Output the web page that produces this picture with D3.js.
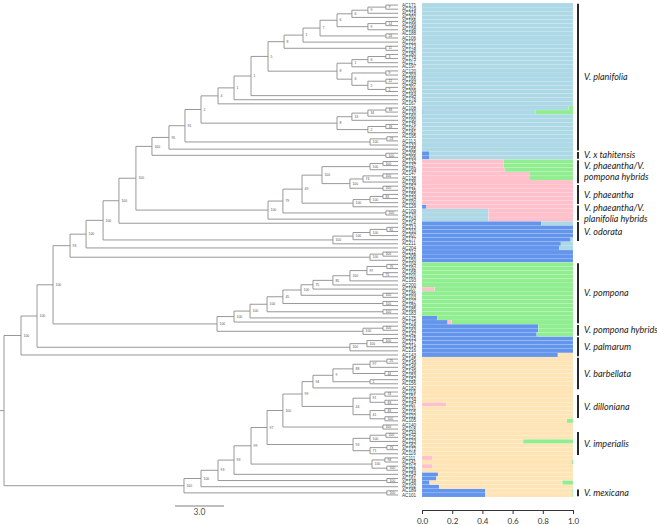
<!DOCTYPE html>
<html><head><meta charset="utf-8">
<script src="https://cdn.jsdelivr.net/npm/d3@7"></script>
<style>body{margin:0;background:#fff}svg{display:block}</style>
</head><body>
<svg id="chart" width="657" height="525"></svg>
<script>
// ---------------- DATA ----------------
// Cluster order used in the STRUCTURE stacks (left to right)
const clusterKeys = ["K1", "K2", "K3", "K4", "K5"];
const clusterColors = ["#6495ed", "#add8e6", "#ffc0cb", "#ffe4b5", "#90ee90"];

// Phylogeny: [bootstrap support, node depth (scale-bar units), child, child]; leaves are accession names
const tipDepth = 24.1;
const tree = ["", 0,
  ["100", 1.04,
    ["100", 2.02,
      ["100", 3.00,
        ["93", 4.04,
          ["100", 5.02,
            ["100", 6.06,
              ["100", 7.03,
                ["100", 8.07,
                  ["100", 9.05,
                    ["95", 10.09,
                      ["91", 11.07,
                        ["2", 12.05,
                          ["4", 13.09,
                            ["1", 14.07,
                              ["1", 15.11,
                                ["5", 16.15,
                                  ["8", 17.13,
                                    ["1", 18.29,
                                      ["7", 19.33,
                                        ["6", 20.37,
                                          ["6", 21.28,
                                            ["9", 22.26, ["9", 23.36, "AC171", "AC219"], "AC218"],
                                            "AC202"],
                                          ["9", 22.26, ["14", 23.36, "AC196", "AC199"], "AC198"]],
                                        ["24", 23.36, "AC188", "AC106"]],
                                      "AC121"],
                                    ["11", 23.36, "AC173", "AC128"]],
                                  ["8", 20.37,
                                    ["1", 21.28, ["6", 22.26, ["3", 23.36, "AC180", "AC174"], "AC117"], "AC197"],
                                    ["6", 21.28, ["9", 23.36, "AC120", "AC203"],
                                      ["2", 22.26, ["12", 23.36, "AC166", "AC184"], ["2", 23.36, "AC201", "AC209"]]]]],
                                "AC164"],
                              "AC178"],
                            "AC167"],
                          ["8", 20.37,
                            ["13", 21.28, ["34", 22.26, ["33", 23.36, "AC108", "AC130"], "AC160"], "AC190"],
                            ["2", 22.26, ["33", 23.36, "AC176", "AC191"], "AC181"]]],
                        ["100", 22.39, ["23", 23.42, "AC195", "AC113"], "AC133"]],
                      "AC165"],
                    ["100", 23.36, "AC205", "AC206"]],
                  ["100", 16.15,
                    ["79", 17.06,
                      ["49", 18.23,
                        ["100", 19.45,
                          ["100", 22.39, ["100", 23.18, "AC132", "AC137"], "AC169"],
                          ["100", 21.16, ["74", 21.96, ["100", 23.18, "AC147", "AC138"], "AC136"], ["100", 23.18, "AC157", "AC135"]]],
                        ["100", 21.35, ["100", 22.39, ["81", 23.18, "AC155", "AC124"], "AC100"], "AC129"]],
                      ["100", 23.36, "AC109", "AC170"]],
                    "AC194"]],
                "AC114"],
              ["100", 20.12, ["100", 21.35, ["100", 22.39, ["81", 23.42, "AC213", "AC210"], "AC207"], "AC177"], "AC211"]],
            "AC204"],
          ["100", 22.39, ["100", 23.18, "AC212", "AC208"], "AC150"]],
        ["100", 13.03,
          ["100", 14.07,
            ["100", 15.05,
              ["100", 16.09,
                ["45", 17.06,
                  ["100", 18.17,
                    ["75", 18.90,
                      ["85", 20.12,
                        ["100", 21.16,
                          ["97", 22.20, ["79", 23.42, "AC104", "AC192"], ["71", 23.18, "AC168", "AC110"]],
                          "AC193"],
                        "AC200"],
                      "AC107"],
                    ["100", 23.18, "AC186", "AC103"]],
                  ["100", 23.18, "AC127", "AC159"]],
                ["100", 23.18, "AC185", "AC183"]],
              "AC175"],
            "AC179"],
          ["100", 21.96, ["100", 23.18, "AC158", "AC163"], "AC142"]]],
      ["100", 21.16, ["100", 22.20, ["100", 23.18, "AC215", "AC217"], "AC214"], "AC216"]],
    "AC143"],
  ["100", 11.01,
    ["100", 12.05,
      ["93", 13.09,
        ["93", 14.07,
          ["99", 15.11,
            ["97", 16.09,
              ["100", 17.06,
                ["99", 18.23,
                  ["94", 18.90,
                    ["9", 20.12,
                      ["88", 21.35, ["97", 22.39, ["25", 23.42, "AC145", "AC149"], "AC146"], ["44", 23.30, "AC139", "AC153"]],
                      ["1", 22.39, "AC152", "AC156"]],
                    "AC182"],
                  ["44", 21.35,
                    ["91", 22.39, ["74", 23.30, "AC119", "AC151"], ["83", 23.30, "AC134", "AC187"]],
                    ["41", 22.39, ["83", 23.30, "AC131", "AC115"], ["100", 23.30, "AC122", "AC105"]]]],
                ["100", 23.18, "AC140", "AC118"]],
              ["93", 21.35,
                ["100", 22.39, ["100", 23.36, "AC144", "AC125"], "AC123"],
                ["71", 22.39, ["73", 23.42, "AC162", "AC172"], "AC116"]]],
            ["100", 22.51, ["94", 23.30, "AC111", "AC141"], ["100", 23.42, "AC112", "AC126"]]],
          "AC154"],
        ["100", 23.42, "AC161", "AC148"]],
      "AC102"],
    ["100", 23.42, "AC189", "AC101"]]];

// Main (pure) cluster for consecutive runs of leaves: [number of leaves, cluster index]
const mainBlocks = [[38, 1], [15, 2], [10, 0], [18, 4], [5, 0], [34, 3]];

// Admixed individuals: [name, K1 blue, K2 light blue, K3 pink, K4 orange, K5 green]
const admixed = [
  ["AC108", 0, 0.97, 0, 0, 0.03],
  ["AC130", 0.005, 0.745, 0, 0, 0.25],
  ["AC205", 0.05, 0.95, 0, 0, 0],
  ["AC206", 0.05, 0.95, 0, 0, 0],
  ["AC132", 0, 0, 0.54, 0, 0.46],
  ["AC137", 0, 0, 0.54, 0, 0.46],
  ["AC169", 0, 0, 0.55, 0, 0.45],
  ["AC147", 0, 0, 0.71, 0, 0.29],
  ["AC138", 0, 0, 0.71, 0, 0.29],
  ["AC129", 0.03, 0, 0.97, 0, 0],
  ["AC109", 0, 0.44, 0.56, 0, 0],
  ["AC170", 0, 0.44, 0.56, 0, 0],
  ["AC194", 0, 0.44, 0.56, 0, 0],
  ["AC114", 0.79, 0.21, 0, 0, 0],
  ["AC177", 0.985, 0.015, 0, 0, 0],
  ["AC211", 0.92, 0.08, 0, 0, 0],
  ["AC204", 0.91, 0.09, 0, 0, 0],
  ["AC107", 0, 0, 0.085, 0, 0.915],
  ["AC175", 0.10, 0, 0, 0, 0.90],
  ["AC179", 0.17, 0, 0.025, 0, 0.805],
  ["AC158", 0.77, 0, 0, 0, 0.23],
  ["AC163", 0.77, 0, 0, 0, 0.23],
  ["AC142", 0.76, 0, 0, 0, 0.24],
  ["AC143", 0.90, 0, 0, 0.10, 0],
  ["AC187", 0, 0, 0.16, 0.84, 0],
  ["AC105", 0, 0, 0, 0.96, 0.04],
  ["AC123", 0, 0, 0, 0.67, 0.33],
  ["AC111", 0, 0, 0.07, 0.93, 0],
  ["AC141", 0, 0, 0, 0.99, 0.01],
  ["AC112", 0, 0, 0.07, 0.93, 0],
  ["AC154", 0.106, 0, 0, 0.894, 0],
  ["AC161", 0.095, 0, 0, 0.905, 0],
  ["AC148", 0.05, 0, 0, 0.88, 0.07],
  ["AC102", 0.113, 0, 0, 0.887, 0],
  ["AC189", 0.42, 0, 0, 0.575, 0.005],
  ["AC101", 0.42, 0, 0, 0.575, 0.005]
];

// Taxon brackets: [label lines, first leaf, last leaf]
const groups = [
  [["V. planifolia"], "AC171", "AC165"],
  [["V. x tahitensis"], "AC205", "AC206"],
  [["V. phaeantha/V.", "pompona hybrids"], "AC132", "AC136"],
  [["V. phaeantha"], "AC157", "AC100"],
  [["V. phaeantha/V.", "planifolia hybrids"], "AC129", "AC194"],
  [["V. odorata"], "AC114", "AC177"],
  [["V. pompona"], "AC104", "AC179"],
  [["V. pompona hybrids"], "AC158", "AC142"],
  [["V. palmarum"], "AC215", "AC143"],
  [["V. barbellata"], "AC145", "AC182"],
  [["V. dilloniana"], "AC151", "AC122"],
  [["V. imperialis"], "AC144", "AC116"],
  [["V. mexicana"], "AC189", "AC101"]
];

const axisTicks = [0, 0.2, 0.4, 0.6, 0.8, 1.0];
const scaleBarValue = 3.0;

// ---------------- DRAWING ----------------
const svg = d3.select("#chart");

function build(t) {
  if (typeof t === "string") return { name: t, len: tipDepth };
  return { support: t[0], len: t[1], children: t.slice(2).map(build) };
}
const root = d3.hierarchy(build(tree));
const leaves = root.leaves();

const yBand = d3.scaleBand().domain(d3.range(leaves.length)).range([3, 497]).padding(0);
const bw = yBand.bandwidth();
leaves.forEach((d, i) => { d.yPos = yBand(i) + bw / 2; d.idx = i; });
root.eachAfter(d => {
  if (d.children) d.yPos = (d.children[0].yPos + d.children[d.children.length - 1].yPos) / 2;
});
const leafIndex = new Map(leaves.map((d, i) => [d.data.name, i]));

const xTree = d3.scaleLinear().domain([0, tipDepth]).range([4, 398]);

const gTree = svg.append("g").attr("stroke", "#8c8c8c").attr("stroke-width", 0.9).attr("fill", "none");
// root stub
gTree.append("line").attr("x1", 0).attr("x2", xTree(0)).attr("y1", root.yPos).attr("y2", root.yPos);
root.each(d => {
  if (!d.children) return;
  const nx = xTree(d.data.len);
  const c0 = d.children[0], c1 = d.children[d.children.length - 1];
  gTree.append("line").attr("x1", nx).attr("x2", nx).attr("y1", c0.yPos).attr("y2", c1.yPos);
  d.children.forEach(c => {
    gTree.append("line").attr("x1", nx).attr("x2", xTree(c.data.len)).attr("y1", c.yPos).attr("y2", c.yPos);
  });
});

// support values
svg.append("g").selectAll("text")
  .data(root.descendants().filter(d => d.children && d.data.support))
  .join("text")
  .attr("x", d => xTree(d.data.len) + 2.5)
  .attr("y", d => d.yPos)
  .attr("dy", "0.35em")
  .attr("font-family", "Liberation Sans, Arial, sans-serif")
  .attr("font-size", 3.4)
  .attr("fill", "#555")
  .text(d => d.data.support);

// leaf labels
svg.append("g").selectAll("text")
  .data(leaves)
  .join("text")
  .attr("x", 402)
  .attr("y", d => d.yPos)
  .attr("dy", "0.35em")
  .attr("font-family", "Liberation Sans, Arial, sans-serif")
  .attr("font-size", 4.6)
  .attr("fill", "#333")
  .text(d => d.data.name);

// ancestry table
const qRows = [];
let k = 0;
mainBlocks.forEach(([n, c]) => {
  for (let i = 0; i < n; i++, k++) {
    const row = {};
    clusterKeys.forEach((key, j) => row[key] = j === c ? 1 : 0);
    qRows.push(row);
  }
});
admixed.forEach(a => {
  const i = leafIndex.get(a[0]);
  if (i === undefined) return;
  clusterKeys.forEach((key, j) => qRows[i][key] = a[j + 1]);
});

const xQ = d3.scaleLinear().domain([0, 1]).range([422, 573]);
const series = d3.stack().keys(clusterKeys)(qRows);
const gBars = svg.append("g");
series.forEach((s, si) => {
  gBars.append("g").attr("fill", clusterColors[si])
    .selectAll("rect")
    .data(s.map((v, i) => ({ v, i })).filter(d => d.v[1] - d.v[0] > 0))
    .join("rect")
    .attr("x", d => xQ(d.v[0]))
    .attr("width", d => xQ(d.v[1]) - xQ(d.v[0]))
    .attr("y", d => yBand(d.i))
    .attr("height", bw)
    .attr("stroke", "#ffffff")
    .attr("stroke-opacity", 0.35)
    .attr("stroke-width", 0.3);
});

// x axis
const axis = d3.axisBottom(xQ).tickValues(axisTicks).tickFormat(d3.format(".1f"))
  .tickSize(4).tickSizeOuter(0).tickPadding(4);
const gAxis = svg.append("g").attr("transform", "translate(0,510)").call(axis);
gAxis.select(".domain").attr("stroke", "#333");
gAxis.selectAll(".tick line").attr("stroke", "#333");
gAxis.selectAll("text").attr("font-family", "Lato, sans-serif").attr("font-size", 8).attr("fill", "#333");

// taxon brackets
const gGroups = svg.append("g");
groups.forEach(([lines, a, b]) => {
  const y0 = yBand(leafIndex.get(a)) + 0.8;
  const y1 = yBand(leafIndex.get(b)) + bw - 0.8;
  gGroups.append("line").attr("x1", 578).attr("x2", 578).attr("y1", y0).attr("y2", y1)
    .attr("stroke", "#111").attr("stroke-width", 1.8);
  const mid = (y0 + y1) / 2;
  lines.forEach((t, li) => {
    gGroups.append("text")
      .attr("x", 584)
      .attr("y", mid + (li - (lines.length - 1) / 2) * 11)
      .attr("dy", "0.35em")
      .attr("font-family", "Lato, sans-serif")
      .attr("font-style", "italic")
      .attr("font-size", 9)
      .attr("fill", "#222")
      .text(t);
  });
});

// scale bar
const sbX0 = 175;
const sbLen = xTree(scaleBarValue) - xTree(0);
svg.append("line").attr("x1", sbX0).attr("x2", sbX0 + sbLen).attr("y1", 506).attr("y2", 506)
  .attr("stroke", "#aaa").attr("stroke-width", 1.4);
svg.append("text").attr("x", sbX0 + sbLen / 2).attr("y", 515).attr("text-anchor", "middle")
  .attr("font-family", "Lato, sans-serif").attr("font-size", 8.5).attr("fill", "#555")
  .text(scaleBarValue.toFixed(1));
</script>
</body></html>
